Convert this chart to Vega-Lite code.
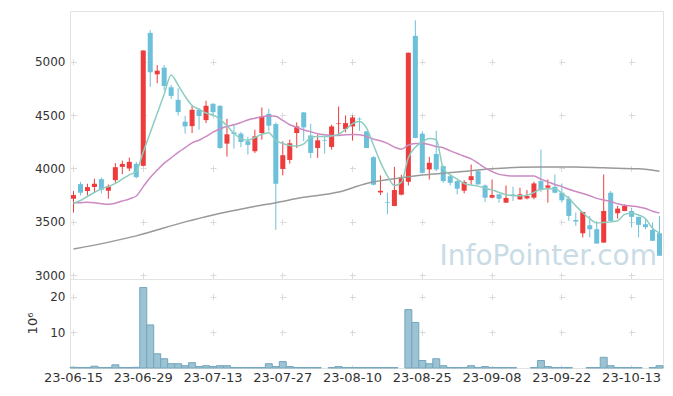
{
"$schema": "https://vega.github.io/schema/vega-lite/v6.json",
"padding": {"left": 25, "top": 10, "right": 10, "bottom": 5},
"background": "white",
"spacing": 0,
"bounds": "flush",
"resolve": {"scale": {"x": "shared"}},
"config": {
  "view": {"stroke": "#e3e3e3"},
  "axis": {"labelFont": "DejaVu Sans", "labelFontSize": 12, "labelColor": "#333333", "titleFont": "DejaVu Sans", "titleColor": "#333333", "domain": false, "ticks": false, "gridColor": "#dadada", "gridWidth": 1}
},
"datasets": {"k": [
{"d":"23-06-15","o":3717,"h":3789,"l":3587,"c":3751,"v":0.2,"m5":3674,"m20":3677,"g":3245},
{"d":"23-06-16","o":3854,"h":3873,"l":3748,"c":3773,"v":0.15,"m5":3700,"m20":3680,"g":null},
{"d":"23-06-19","o":3789,"h":3857,"l":3748,"c":3826,"v":0.15,"m5":3740,"m20":3683,"g":null},
{"d":"23-06-20","o":3826,"h":3904,"l":3779,"c":3857,"v":0.5,"m5":3775,"m20":3680,"g":null},
{"d":"23-06-21","o":3900,"h":3916,"l":3767,"c":3801,"v":0.15,"m5":3810,"m20":3670,"g":null},
{"d":"23-06-22","o":3792,"h":3851,"l":3717,"c":3832,"v":0.15,"m5":3830,"m20":3665,"g":null},
{"d":"23-06-23","o":3891,"h":4050,"l":3866,"c":4012,"v":0.9,"m5":3860,"m20":3675,"g":null},
{"d":"23-06-26","o":4015,"h":4074,"l":3947,"c":4043,"v":0.15,"m5":3900,"m20":3695,"g":null},
{"d":"23-06-27","o":4000,"h":4102,"l":3975,"c":4062,"v":0.15,"m5":3940,"m20":3715,"g":null},
{"d":"23-06-28","o":4043,"h":4062,"l":3907,"c":3919,"v":0.2,"m5":3975,"m20":3742,"g":3369},
{"d":"23-06-29","o":4025,"h":5105,"l":4020,"c":5105,"v":22.6,"m5":4155,"m20":3830,"g":null},
{"d":"23-06-30","o":5270,"h":5295,"l":4764,"c":4901,"v":12.1,"m5":4335,"m20":3915,"g":null},
{"d":"23-07-03","o":4882,"h":4969,"l":4798,"c":4916,"v":4.0,"m5":4515,"m20":3985,"g":null},
{"d":"23-07-04","o":4944,"h":4969,"l":4730,"c":4773,"v":2.6,"m5":4695,"m20":4050,"g":null},
{"d":"23-07-05","o":4761,"h":4783,"l":4652,"c":4680,"v":1.2,"m5":4876,"m20":4100,"g":null},
{"d":"23-07-06","o":4643,"h":4752,"l":4497,"c":4528,"v":1.2,"m5":4780,"m20":4150,"g":null},
{"d":"23-07-07","o":4438,"h":4494,"l":4326,"c":4394,"v":0.65,"m5":4675,"m20":4195,"g":3500},
{"d":"23-07-10","o":4397,"h":4587,"l":4332,"c":4550,"v":1.5,"m5":4590,"m20":4240,"g":null},
{"d":"23-07-11","o":4550,"h":4565,"l":4363,"c":4491,"v":0.4,"m5":4555,"m20":4265,"g":null},
{"d":"23-07-12","o":4453,"h":4634,"l":4425,"c":4587,"v":0.65,"m5":4520,"m20":4300,"g":null},
{"d":"23-07-13","o":4606,"h":4612,"l":4488,"c":4528,"v":0.4,"m5":4500,"m20":4340,"g":3565},
{"d":"23-07-14","o":4587,"h":4593,"l":4183,"c":4192,"v":0.65,"m5":4460,"m20":4370,"g":null},
{"d":"23-07-17","o":4233,"h":4466,"l":4112,"c":4320,"v":0.65,"m5":4400,"m20":4395,"g":null},
{"d":"23-07-18","o":4338,"h":4410,"l":4186,"c":4323,"v":0.15,"m5":4330,"m20":4410,"g":null},
{"d":"23-07-19","o":4326,"h":4342,"l":4199,"c":4248,"v":0.15,"m5":4280,"m20":4430,"g":null},
{"d":"23-07-20","o":4255,"h":4295,"l":4130,"c":4221,"v":0.15,"m5":4265,"m20":4455,"g":3633},
{"d":"23-07-21","o":4162,"h":4363,"l":4146,"c":4301,"v":0.15,"m5":4290,"m20":4470,"g":null},
{"d":"23-07-24","o":4332,"h":4571,"l":4270,"c":4488,"v":0.15,"m5":4320,"m20":4485,"g":null},
{"d":"23-07-25","o":4512,"h":4559,"l":4348,"c":4401,"v":1.2,"m5":4335,"m20":4495,"g":null},
{"d":"23-07-26","o":4416,"h":4432,"l":3425,"c":3857,"v":0.4,"m5":4260,"m20":4490,"g":3680},
{"d":"23-07-27","o":3996,"h":4255,"l":3935,"c":4124,"v":1.8,"m5":4235,"m20":4450,"g":null},
{"d":"23-07-28","o":4080,"h":4270,"l":4046,"c":4236,"v":0.4,"m5":4215,"m20":4410,"g":null},
{"d":"23-07-31","o":4332,"h":4432,"l":4192,"c":4394,"v":0.15,"m5":4210,"m20":4385,"g":null},
{"d":"23-08-01","o":4525,"h":4528,"l":4255,"c":4385,"v":0.15,"m5":4230,"m20":4360,"g":3730},
{"d":"23-08-02","o":4310,"h":4419,"l":4099,"c":4146,"v":0.15,"m5":4290,"m20":4345,"g":null},
{"d":"23-08-03","o":4192,"h":4317,"l":4099,"c":4264,"v":0.15,"m5":4300,"m20":4325,"g":null},
{"d":"23-08-04","o":4264,"h":4307,"l":4140,"c":4258,"v":null,"m5":4300,"m20":4315,"g":null},
{"d":"23-08-07","o":4202,"h":4410,"l":4177,"c":4394,"v":0.15,"m5":4305,"m20":4310,"g":null},
{"d":"23-08-08","o":4416,"h":4581,"l":4317,"c":4422,"v":0.4,"m5":4320,"m20":4310,"g":3779},
{"d":"23-08-09","o":4369,"h":4497,"l":4338,"c":4425,"v":0.15,"m5":4365,"m20":4315,"g":null},
{"d":"23-08-10","o":4394,"h":4497,"l":4261,"c":4478,"v":0.15,"m5":4420,"m20":4318,"g":null},
{"d":"23-08-11","o":4466,"h":4478,"l":4354,"c":4460,"v":0.15,"m5":4440,"m20":4315,"g":null},
{"d":"23-08-14","o":4348,"h":4350,"l":4190,"c":4192,"v":0.15,"m5":4380,"m20":4300,"g":3860},
{"d":"23-08-16","o":4106,"h":4115,"l":3841,"c":3848,"v":0.15,"m5":4220,"m20":4275,"g":null},
{"d":"23-08-17","o":3776,"h":3935,"l":3751,"c":3791,"v":0.15,"m5":4060,"m20":4260,"g":null},
{"d":"23-08-18","o":3686,"h":3773,"l":3571,"c":3680,"v":0.15,"m5":3930,"m20":4235,"g":null},
{"d":"23-08-21","o":3649,"h":4015,"l":3647,"c":3798,"v":0.15,"m5":3840,"m20":4200,"g":null},
{"d":"23-08-22","o":3755,"h":3941,"l":3748,"c":3916,"v":null,"m5":3870,"m20":4180,"g":3913},
{"d":"23-08-23","o":3876,"h":5086,"l":3841,"c":5084,"v":16.4,"m5":4100,"m20":4220,"g":null},
{"d":"23-08-24","o":5242,"h":5388,"l":4284,"c":4286,"v":12.8,"m5":4200,"m20":4235,"g":null},
{"d":"23-08-25","o":4326,"h":4348,"l":3953,"c":3959,"v":2.1,"m5":4250,"m20":4235,"g":3938},
{"d":"23-08-28","o":3991,"h":4109,"l":3897,"c":4053,"v":1.2,"m5":4280,"m20":4225,"g":null},
{"d":"23-08-29","o":4136,"h":4354,"l":3975,"c":3991,"v":2.6,"m5":4270,"m20":4205,"g":null},
{"d":"23-08-30","o":4022,"h":4028,"l":3866,"c":3882,"v":0.65,"m5":4000,"m20":4195,"g":null},
{"d":"23-08-31","o":3928,"h":3944,"l":3841,"c":3866,"v":0.15,"m5":3940,"m20":4165,"g":null},
{"d":"23-09-01","o":3882,"h":3891,"l":3758,"c":3811,"v":0.15,"m5":3900,"m20":4140,"g":3966},
{"d":"23-09-04","o":3792,"h":3891,"l":3767,"c":3873,"v":0.15,"m5":3860,"m20":4115,"g":null},
{"d":"23-09-05","o":3891,"h":4037,"l":3848,"c":3928,"v":0.65,"m5":3845,"m20":4090,"g":null},
{"d":"23-09-06","o":3975,"h":3984,"l":3849,"c":3851,"v":0.15,"m5":3835,"m20":4050,"g":null},
{"d":"23-09-07","o":3841,"h":3851,"l":3686,"c":3727,"v":0.4,"m5":3815,"m20":4005,"g":null},
{"d":"23-09-08","o":3727,"h":3897,"l":3720,"c":3751,"v":0.15,"m5":3800,"m20":3970,"g":3997},
{"d":"23-09-11","o":3758,"h":3760,"l":3680,"c":3717,"v":0.15,"m5":3775,"m20":3945,"g":null},
{"d":"23-09-12","o":3680,"h":3841,"l":3678,"c":3724,"v":0.15,"m5":3755,"m20":3935,"g":null},
{"d":"23-09-13","o":3758,"h":3829,"l":3696,"c":3742,"v":0.15,"m5":3745,"m20":3930,"g":null},
{"d":"23-09-14","o":3711,"h":3820,"l":3705,"c":3758,"v":null,"m5":3745,"m20":3930,"g":4012},
{"d":"23-09-15","o":3720,"h":3798,"l":3711,"c":3742,"v":null,"m5":3750,"m20":3930,"g":null},
{"d":"23-09-18","o":3727,"h":3876,"l":3711,"c":3860,"v":0.15,"m5":3775,"m20":3930,"g":null},
{"d":"23-09-19","o":3882,"h":4177,"l":3779,"c":3798,"v":2.1,"m5":3805,"m20":3900,"g":4015},
{"d":"23-09-20","o":3820,"h":3897,"l":3680,"c":3841,"v":0.4,"m5":3810,"m20":3875,"g":null},
{"d":"23-09-21","o":3829,"h":3944,"l":3767,"c":3773,"v":0.15,"m5":3810,"m20":3850,"g":null},
{"d":"23-09-22","o":3773,"h":3860,"l":3680,"c":3702,"v":0.15,"m5":3770,"m20":3830,"g":null},
{"d":"23-09-25","o":3717,"h":3742,"l":3509,"c":3556,"v":0.15,"m5":3720,"m20":3805,"g":null},
{"d":"23-09-26","o":3518,"h":3587,"l":3463,"c":3503,"v":null,"m5":3650,"m20":3785,"g":4015},
{"d":"23-09-27","o":3394,"h":3595,"l":3354,"c":3593,"v":null,"m5":3585,"m20":3765,"g":null},
{"d":"23-10-04","o":3469,"h":3556,"l":3354,"c":3431,"v":0.15,"m5":3530,"m20":3745,"g":null},
{"d":"23-10-05","o":3431,"h":3509,"l":3295,"c":3297,"v":0.15,"m5":3490,"m20":3720,"g":null},
{"d":"23-10-06","o":3306,"h":3944,"l":3304,"c":3602,"v":3.0,"m5":3495,"m20":3705,"g":4006},
{"d":"23-10-10","o":3773,"h":3789,"l":3503,"c":3509,"v":0.65,"m5":3500,"m20":3690,"g":null},
{"d":"23-10-11","o":3581,"h":3649,"l":3531,"c":3624,"v":0.15,"m5":3510,"m20":3670,"g":null},
{"d":"23-10-12","o":3602,"h":3664,"l":3600,"c":3649,"v":0.15,"m5":3570,"m20":3655,"g":null},
{"d":"23-10-13","o":3602,"h":3633,"l":3447,"c":3547,"v":0.15,"m5":3580,"m20":3648,"g":null},
{"d":"23-10-16","o":3547,"h":3549,"l":3354,"c":3472,"v":0.15,"m5":3565,"m20":3640,"g":3997},
{"d":"23-10-17","o":3478,"h":3525,"l":3431,"c":3450,"v":null,"m5":3530,"m20":3625,"g":null},
{"d":"23-10-18","o":3425,"h":3494,"l":3321,"c":3323,"v":0.15,"m5":3440,"m20":3600,"g":null},
{"d":"23-10-19","o":3394,"h":3556,"l":3181,"c":3183,"v":0.65,"m5":3395,"m20":3582,"g":3975}
]},
"vconcat": [
{
  "width": 593, "height": 268,
  "data": {"name": "k"},
  "title": {"text": "InfoPointer.com", "orient": "bottom", "anchor": "end", "frame": "group", "offset": -38, "dx": -6, "font": "DejaVu Sans", "fontSize": 28, "fontWeight": "normal", "color": "#c9dce6"},
  "encoding": {
    "x": {"field": "d", "type": "ordinal", "scale": {"type": "band", "paddingInner": 0, "paddingOuter": 0},
      "axis": {"labels": false, "title": null, "grid": true, "bandPosition": 0.5, "values": ["23-06-15","23-06-29","23-07-13","23-07-27","23-08-10","23-08-25","23-09-08","23-09-22","23-10-13"], "gridDash": [6, 47.39], "gridDashOffset": 5.67, "minExtent": 0, "maxExtent": 0}}
  },
  "layer": [
    {"mark": {"type": "rule", "strokeWidth": 1},
     "encoding": {
       "y": {"field": "l", "type": "quantitative", "scale": {"domain": [2965, 5475], "nice": false, "zero": false},
         "axis": {"title": null, "format": "d", "values": [3000, 3500, 4000, 4500, 5000], "grid": true, "gridDash": [6, 63.76], "gridDashOffset": 69.27, "labelPadding": 5}},
       "y2": {"field": "h"},
       "color": {"condition": {"test": "datum.c > datum.o", "value": "#ee3b3b"}, "value": "#6cc0d9"}
     }},
    {"mark": {"type": "bar", "width": {"band": 0.72}},
     "encoding": {
       "y": {"field": "o", "type": "quantitative"},
       "y2": {"field": "c"},
       "color": {"condition": {"test": "datum.c > datum.o", "value": "#ee3b3b"}, "value": "#6cc0d9"}
     }},
    {"transform": [{"filter": "isValid(datum.g)"}],
     "mark": {"type": "line", "interpolate": "monotone", "strokeWidth": 1.5, "color": "#999999"},
     "encoding": {"y": {"field": "g", "type": "quantitative"}}},
    {"mark": {"type": "line", "interpolate": "monotone", "strokeWidth": 1.5, "color": "#cc8ac2"},
     "encoding": {"y": {"field": "m20", "type": "quantitative"}}},
    {"mark": {"type": "line", "interpolate": "monotone", "strokeWidth": 1.5, "color": "#8ccdbf"},
     "encoding": {"y": {"field": "m5", "type": "quantitative"}}}
  ]
},
{
  "width": 593, "height": 89,
  "data": {"name": "k"},
  "transform": [{"filter": "isValid(datum.v)"}],
  "mark": {"type": "bar", "width": {"band": 1}, "fill": "#9cc3d3", "stroke": "#74a6bc", "strokeWidth": 1},
  "encoding": {
    "x": {"field": "d", "type": "ordinal", "scale": {"type": "band", "paddingInner": 0, "paddingOuter": 0},
      "axis": {"title": null, "labelAngle": 0, "grid": true, "bandPosition": 0.5, "labelPadding": 3, "labelFontSize": 13, "values": ["23-06-15","23-06-29","23-07-13","23-07-27","23-08-10","23-08-25","23-09-08","23-09-22","23-10-13"], "gridDash": [6, 29.6], "gridDashOffset": 20.8}},
    "y": {"field": "v", "type": "quantitative", "scale": {"domain": [0, 25], "nice": false},
      "axis": {"title": "10⁶", "values": [10, 20], "grid": true, "gridDash": [6, 63.76], "gridDashOffset": 69.27, "labelPadding": 5, "titleX": -38, "titleY": 44, "titleAngle": -90, "titleAlign": "center", "titleBaseline": "middle", "titleFontWeight": "normal", "titleFontSize": 13}}
  }
}
]
}
